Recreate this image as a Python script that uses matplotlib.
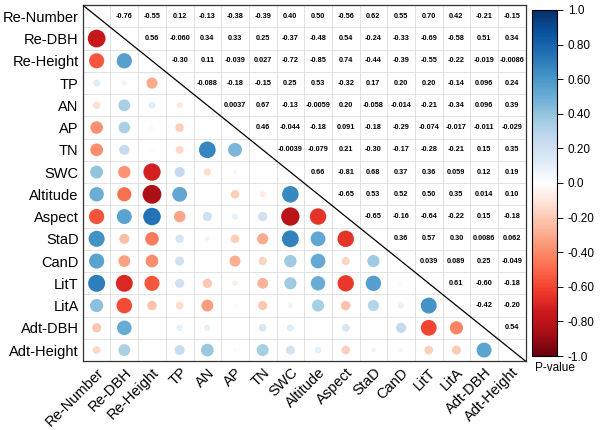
import numpy as np
import matplotlib
matplotlib.use("Agg")
import matplotlib.pyplot as plt
from matplotlib.colors import LinearSegmentedColormap, Normalize
from matplotlib.colorbar import ColorbarBase

plt.rcParams["font.family"] = ["Liberation Sans", "DejaVu Sans"]

# ── Data ──────────────────────────────────────────────────────────────────
labels = ["Re-Number", "Re-DBH", "Re-Height", "TP", "AN", "AP", "TN", "SWC",
          "Altitude", "Aspect", "StaD", "CanD", "LitT", "LitA", "Adt-DBH",
          "Adt-Height"]

# upper triangle, row by row (values right of the diagonal), as printed
upper_text = [
    ["-0.76", "-0.55", "0.12", "-0.13", "-0.38", "-0.39", "0.40", "0.50", "-0.56", "0.62", "0.55", "0.70", "0.42", "-0.21", "-0.15"],
    ["0.56", "-0.060", "0.34", "0.33", "0.25", "-0.37", "-0.48", "0.54", "-0.24", "-0.33", "-0.69", "-0.58", "0.51", "0.34"],
    ["-0.30", "0.11", "-0.039", "0.027", "-0.72", "-0.85", "0.74", "-0.44", "-0.39", "-0.55", "-0.22", "-0.019", "-0.0086"],
    ["-0.088", "-0.18", "-0.15", "0.25", "0.53", "-0.32", "0.17", "0.20", "0.20", "-0.14", "0.096", "0.24"],
    ["0.0037", "0.67", "-0.13", "-0.0059", "0.20", "-0.058", "-0.014", "-0.21", "-0.34", "0.096", "0.39"],
    ["0.46", "-0.044", "-0.18", "0.091", "-0.18", "-0.29", "-0.074", "-0.017", "-0.011", "-0.029"],
    ["-0.0039", "-0.079", "0.21", "-0.30", "-0.17", "-0.28", "-0.21", "0.15", "0.35"],
    ["0.66", "-0.81", "0.68", "0.37", "0.36", "0.059", "0.12", "0.19"],
    ["-0.65", "0.53", "0.52", "0.50", "0.35", "0.014", "0.10"],
    ["-0.65", "-0.16", "-0.64", "-0.22", "0.15", "-0.18"],
    ["0.36", "0.57", "0.30", "0.0086", "0.062"],
    ["0.039", "0.089", "0.25", "-0.049"],
    ["0.61", "-0.60", "-0.18"],
    ["-0.42", "-0.20"],
    ["0.54"],
]
cbar_ticks = [-1.0, -0.8, -0.6, -0.4, -0.2, 0.0, 0.2, 0.4, 0.6, 0.8, 1.0]
cbar_labels = ["-1.0", "-0.80", "-0.60", "-0.40", "-0.20", "0.0",
               "0.20", "0.40", "0.60", "0.80", "1.0"]

n = len(labels)
corr = np.eye(n)
for i, row in enumerate(upper_text):
    for k, t in enumerate(row):
        j = i + 1 + k
        corr[i, j] = corr[j, i] = float(t)

cmap = LinearSegmentedColormap.from_list("rdbu_custom", [
    "#67000d", "#a50f15", "#cb181d", "#ef3b2c", "#fb6a4a", "#fc9272",
    "#fcbba1", "#fee0d2", "#ffffff", "#deebf7", "#c6dbef", "#9ecae1",
    "#6baed6", "#4292c6", "#2171b5", "#08519c", "#08306b"])
norm = Normalize(-1, 1)

# ── Plot ──────────────────────────────────────────────────────────────────
fig = plt.figure(figsize=(6, 4.3), dpi=100)
ax = fig.add_axes([0.138, 0.160, 0.738, 0.828])
ax.set_xlim(-0.5, n - 0.5)
ax.set_ylim(n - 0.5, -0.5)

# grid
for k in range(n + 1):
    ax.axhline(k - 0.5, color="#dddddd", linewidth=0.6, zorder=1)
    ax.axvline(k - 0.5, color="#dddddd", linewidth=0.6, zorder=1)

# lower triangle: circles (area ~ |r|)
xs, ys, vals = [], [], []
for i in range(n):
    for j in range(i):
        xs.append(j)
        ys.append(i)
        vals.append(corr[i, j])
vals = np.array(vals)
ax.scatter(xs, ys, s=215 * np.abs(vals), c=vals, cmap=cmap, norm=norm,
           linewidths=0, zorder=3)

# upper triangle: numbers
for i, row in enumerate(upper_text):
    for k, t in enumerate(row):
        ax.text(i + 1 + k, i, t, ha="center", va="center", fontsize=5.3,
                fontweight="bold", color="black", zorder=4)

# diagonal
ax.plot([-0.5, n - 0.5], [-0.5, n - 0.5], color="black", linewidth=0.9, zorder=5)

ax.set_xticks(range(n))
ax.set_yticks(range(n))
ax.set_xticklabels(labels, rotation=45, ha="right", va="top",
                   rotation_mode="anchor", fontsize=10.5)
ax.set_yticklabels(labels, fontsize=10.5)
ax.tick_params(length=0, pad=3)
for s in ax.spines.values():
    s.set_color("#333333")
    s.set_linewidth(0.9)

# colorbar
cax = fig.add_axes([0.887, 0.172, 0.042, 0.805])
cb = ColorbarBase(cax, cmap=cmap, norm=norm, orientation="vertical")
cb.set_ticks(cbar_ticks)
cb.set_ticklabels(cbar_labels)
cax.tick_params(labelsize=8.5, length=4, width=0.7)
cb.outline.set_linewidth(0.8)
fig.text(0.892, 0.145, "P-value", ha="left", va="center", fontsize=8.5)

fig.savefig("out.png", dpi=100)
